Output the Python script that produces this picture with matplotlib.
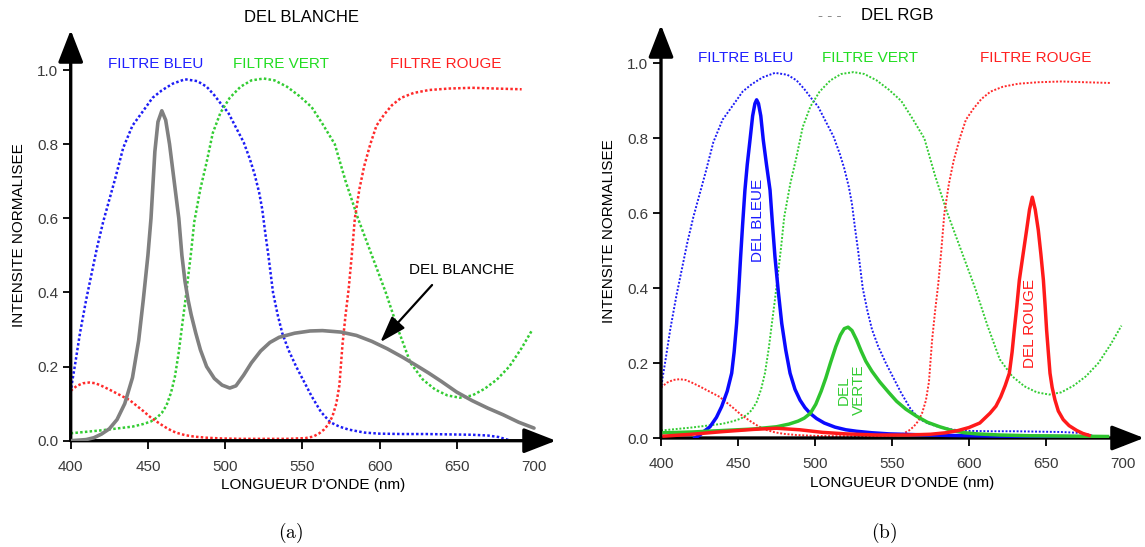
import matplotlib as mpl
mpl.use('Agg')
import matplotlib.pyplot as plt

plt.rcParams['font.family'] = ['Liberation Sans', 'DejaVu Sans']

# filtres (les memes dans les deux graphes)
bleu_wl = [400, 401, 403, 406, 410, 413, 417, 421, 425, 429, 434, 440, 447, 453, 459,
           466, 474, 482, 488, 493, 498, 502, 507, 512, 516, 519, 522, 524, 526, 528,
           531, 534, 537, 541, 546, 551, 556, 562, 568, 574, 580, 590, 600, 615, 630,
           645, 660, 670, 677, 685]
filtre_bleu = [0.13, 0.16, 0.21, 0.29, 0.38, 0.44, 0.52, 0.59, 0.65, 0.71, 0.79, 0.85, 0.89, 0.925, 0.945,
               0.963, 0.975, 0.97, 0.955, 0.932, 0.905, 0.885, 0.845, 0.805, 0.76, 0.72, 0.67, 0.625, 0.56, 0.5,
               0.4, 0.34, 0.29, 0.245, 0.2, 0.16, 0.12, 0.078, 0.05, 0.038, 0.03, 0.022, 0.019, 0.018, 0.018,
               0.017, 0.016, 0.014, 0.01, 0.0]

vert_wl = [400, 410, 420, 430, 440, 447, 452, 456, 459, 462, 465, 467.5, 470, 472, 474,
           476, 478, 480, 484, 488, 492, 497, 503, 510, 517, 525, 532, 540, 548, 556,
           563, 571, 578, 586, 595, 604, 612, 620, 628, 636, 644, 652, 660, 668, 676,
           684, 692, 699]
filtre_vert = [0.02, 0.024, 0.028, 0.033, 0.038, 0.045, 0.052, 0.063, 0.075, 0.095, 0.13, 0.173, 0.24, 0.306, 0.37,
               0.44, 0.51, 0.59, 0.68, 0.751, 0.83, 0.885, 0.925, 0.955, 0.972, 0.977, 0.972, 0.955, 0.93, 0.9,
               0.855, 0.8, 0.7, 0.6, 0.5, 0.4, 0.3, 0.21, 0.165, 0.138, 0.122, 0.116, 0.122, 0.14, 0.165,
               0.2, 0.25, 0.3]

rouge_wl = [400, 404, 408, 412, 416, 420, 425, 431, 438, 447, 452, 458, 463, 468, 474,
            480, 488, 498, 510, 525, 540, 552, 557, 561, 564, 567, 569.5, 572, 574, 576,
            578, 580, 582, 584, 587, 590, 594, 598, 603, 608, 614, 622, 632, 645, 660,
            675, 692]
filtre_rouge = [0.135, 0.148, 0.155, 0.157, 0.155, 0.148, 0.138, 0.125, 0.11, 0.08, 0.062, 0.045, 0.032, 0.022, 0.015,
                0.011, 0.008, 0.006, 0.005, 0.005, 0.005, 0.007, 0.011, 0.02, 0.03, 0.045, 0.066, 0.1, 0.15, 0.26,
                0.34, 0.41, 0.5, 0.6, 0.68, 0.74, 0.8, 0.85, 0.88, 0.905, 0.925, 0.938, 0.946, 0.95, 0.952,
                0.95, 0.948]

# (a) DEL blanche
blanche_wl = [400, 410, 415, 420, 425, 430, 435, 440, 444, 447, 450, 452, 454.5, 456.5, 459,
              461.5, 464, 467, 470, 472, 474, 476, 478, 481, 484, 488, 493, 498, 503, 507,
              512, 517, 523, 529, 535, 545, 555, 563, 575, 585, 595, 605, 615, 625, 632,
              640, 650, 660, 670, 680, 690, 700]
del_blanche = [0.0, 0.003, 0.008, 0.018, 0.032, 0.057, 0.1, 0.17, 0.27, 0.38, 0.5, 0.6, 0.78, 0.86, 0.89,
               0.865, 0.8, 0.7, 0.6, 0.5, 0.43, 0.38, 0.34, 0.29, 0.245, 0.2, 0.168, 0.15, 0.142, 0.148,
               0.177, 0.21, 0.242, 0.265, 0.279, 0.29, 0.296, 0.297, 0.293, 0.284, 0.268, 0.248, 0.225, 0.2, 0.182,
               0.16, 0.131, 0.108, 0.088, 0.07, 0.05, 0.034]

# (b) DEL RGB
del_bleue_wl = [422, 425.3, 428, 431.8, 436, 439.4, 443, 445.9, 447.5, 449.1, 450.4, 451.7, 453, 454.5, 456,
                457.8, 459.5, 461, 462.1, 463.3, 464.8, 466.4, 468.5, 470.8, 472.4, 474, 476.2, 478.4, 481, 483.8,
                487, 490.3, 493.5, 496.8, 501, 506, 513, 520, 527, 537, 548, 565, 585, 620, 660, 682]
del_bleue = [0.0, 0.008, 0.018, 0.03, 0.055, 0.084, 0.125, 0.173, 0.23, 0.306, 0.39, 0.484, 0.57, 0.662, 0.73,
             0.796, 0.86, 0.893, 0.903, 0.893, 0.86, 0.796, 0.73, 0.662, 0.57, 0.484, 0.39, 0.306, 0.235, 0.173,
             0.13, 0.101, 0.081, 0.066, 0.052, 0.04, 0.029, 0.022, 0.018, 0.014, 0.011, 0.009, 0.007, 0.005, 0.004, 0.003]

del_verte_wl = [402, 420, 440, 460, 475, 483, 489, 493, 497, 500.5, 504, 507, 510, 513.5, 516.5,
                519, 521.5, 524, 527, 530, 533, 537, 542, 548, 553, 559, 566, 573, 581, 589,
                597, 605, 620, 640, 665, 690]
del_verte = [0.014, 0.016, 0.02, 0.024, 0.03, 0.037, 0.045, 0.053, 0.066, 0.09, 0.125, 0.16, 0.2, 0.244, 0.275,
             0.292, 0.296, 0.287, 0.262, 0.232, 0.205, 0.178, 0.15, 0.121, 0.098, 0.077, 0.058, 0.042, 0.03, 0.02,
             0.014, 0.011, 0.008, 0.006, 0.005, 0.004]

del_rouge_wl = [402, 420, 440, 460, 475, 490, 505, 520, 540, 560, 575, 585, 593, 600, 607,
                613.6, 617.5, 620.6, 623.5, 626.2, 628, 629.4, 631, 632.7, 635.2, 637.4, 639.3, 641.1, 643, 645,
                646.7, 648.3, 649.4, 650.4, 651.5, 652.6, 654, 655.8, 658, 661.2, 665, 670, 674, 678]
del_rouge = [0.005, 0.01, 0.017, 0.023, 0.026, 0.022, 0.015, 0.011, 0.008, 0.008, 0.01, 0.014, 0.02, 0.028, 0.04,
             0.066, 0.085, 0.11, 0.14, 0.173, 0.23, 0.288, 0.35, 0.422, 0.493, 0.555, 0.61, 0.643, 0.61, 0.555,
             0.49, 0.422, 0.355, 0.288, 0.23, 0.173, 0.135, 0.102, 0.072, 0.049, 0.033, 0.02, 0.012, 0.007]

x_ticks = [400, 450, 500, 550, 600, 650, 700]
y_ticks = [0.0, 0.2, 0.4, 0.6, 0.8, 1.0]

C_BLEU = '#1c1cf5'
C_VERT = '#33cc33'
C_ROUGE = '#ff2a2a'

W, H = 1145, 547


def setup_axes(fig, x0, y0, x_tip, y_tip, x_end, y_end):
    # x0,y0 = pixel of (400, 0); x_tip,y_tip = arrow tips; x_end,y_end = (700, 1.0)
    ax = fig.add_axes([x0 / W, 1 - y0 / H, (x_tip - x0) / W, (y0 - y_tip) / H])
    px_nm = (x_end - x0) / 300.0
    px_un = (y0 - y_end) / 1.0
    ax.set_xlim(400, 400 + (x_tip - x0) / px_nm)
    ax.set_ylim(0, (y0 - y_tip) / px_un)
    for s in ax.spines.values():
        s.set_visible(False)
    ax.set_xticks(x_ticks)
    ax.set_xticklabels([str(t) for t in x_ticks])
    ax.set_yticks(y_ticks)
    ax.set_yticklabels(['%.1f' % t for t in y_ticks])
    ax.tick_params(axis='both', direction='out', length=6, width=1.3, color='black',
                   labelcolor='#3a3a3a', labelsize=11)
    ax.tick_params(axis='x', pad=8)
    ax.tick_params(axis='y', pad=3)
    ax.annotate('', xy=(1, 0), xytext=(0, 0), xycoords='axes fraction',
                arrowprops=dict(arrowstyle='-|>,head_length=0.9,head_width=0.35', color='black',
                                lw=2.4, mutation_scale=22, shrinkA=0, shrinkB=0), annotation_clip=False)
    ax.annotate('', xy=(0, 1), xytext=(0, 0), xycoords='axes fraction',
                arrowprops=dict(arrowstyle='-|>,head_length=0.9,head_width=0.35', color='black',
                                lw=2.4, mutation_scale=22, shrinkA=0, shrinkB=0), annotation_clip=False)
    ax.set_xlabel("LONGUEUR D'ONDE (nm)", fontsize=11, labelpad=3)
    ax.set_ylabel('INTENSITE NORMALISEE', fontsize=11, labelpad=8)
    return ax


def draw_filters(ax, lw):
    ax.plot(bleu_wl, filtre_bleu, color=C_BLEU, lw=lw, linestyle=(0, (1.0, 0.9)), zorder=2)
    ax.plot(vert_wl, filtre_vert, color=C_VERT, lw=lw, linestyle=(0, (1.0, 0.9)), zorder=2)
    ax.plot(rouge_wl, filtre_rouge, color=C_ROUGE, lw=lw, linestyle=(0, (1.0, 0.9)), zorder=2)
    ax.text(455, 1.015, 'FILTRE BLEU', color='#2020ff', fontsize=11, ha='center', va='center')
    ax.text(536, 1.015, 'FILTRE VERT', color='#22dd22', fontsize=11, ha='center', va='center')
    ax.text(643, 1.015, 'FILTRE ROUGE', color='#ff2020', fontsize=11, ha='center', va='center')


fig = plt.figure(figsize=(W / 100, H / 100), dpi=100)

# (a)
ax1 = setup_axes(fig, 70.7, 440.7, 556, 30, 534, 70)
draw_filters(ax1, 1.8)
ax1.plot(blanche_wl, del_blanche, color='#808080', lw=2.6, zorder=3, solid_capstyle='round')
ax1.text(653, 0.46, 'DEL BLANCHE', fontsize=11, ha='center', va='center', color='black')
ax1.annotate('', xy=(600.5, 0.266), xytext=(634, 0.42),
             arrowprops=dict(arrowstyle='-|>,head_length=0.9,head_width=0.3', color='black',
                             lw=1.6, mutation_scale=18, shrinkA=0, shrinkB=0))

# (b)
ax2 = setup_axes(fig, 661, 438, 1144, 25, 1123, 63.5)
draw_filters(ax2, 1.4)
ax2.plot(del_bleue_wl, del_bleue, color='#0a0aff', lw=2.5, zorder=3)
ax2.plot(del_verte_wl, del_verte, color='#2ec42e', lw=2.5, zorder=3)
ax2.plot(del_rouge_wl, del_rouge, color='#ff1a1a', lw=2.5, zorder=3)
ax2.text(463, 0.582, 'DEL BLEUE', color='#1a1aff', fontsize=11, rotation=90, ha='center', va='center')
ax2.text(523.5, 0.128, 'DEL\nVERTE', color='#33cc33', fontsize=11, rotation=90, ha='center', va='center',
         multialignment='center', linespacing=1.15)
ax2.text(639.6, 0.305, 'DEL ROUGE', color='#ff1a1a', fontsize=11, rotation=90, ha='center', va='center')

# titres
fig.text(301 / W, 1 - 18 / H, 'DEL BLANCHE', fontsize=12, ha='center', va='center')
fig.text(897 / W, 1 - 16 / H, 'DEL RGB', fontsize=12, ha='center', va='center')
fig.text(830 / W, 1 - 16 / H, '- - -', fontsize=11, ha='center', va='center', color='#8a8a8a')

# sous-figures
fig.text(291 / W, 1 - 533 / H, r'$\mathrm{(a)}$', fontsize=14, ha='center', va='center', math_fontfamily='cm')
fig.text(884 / W, 1 - 533 / H, r'$\mathrm{(b)}$', fontsize=14, ha='center', va='center', math_fontfamily='cm')

fig.savefig('out.png', dpi=100)
